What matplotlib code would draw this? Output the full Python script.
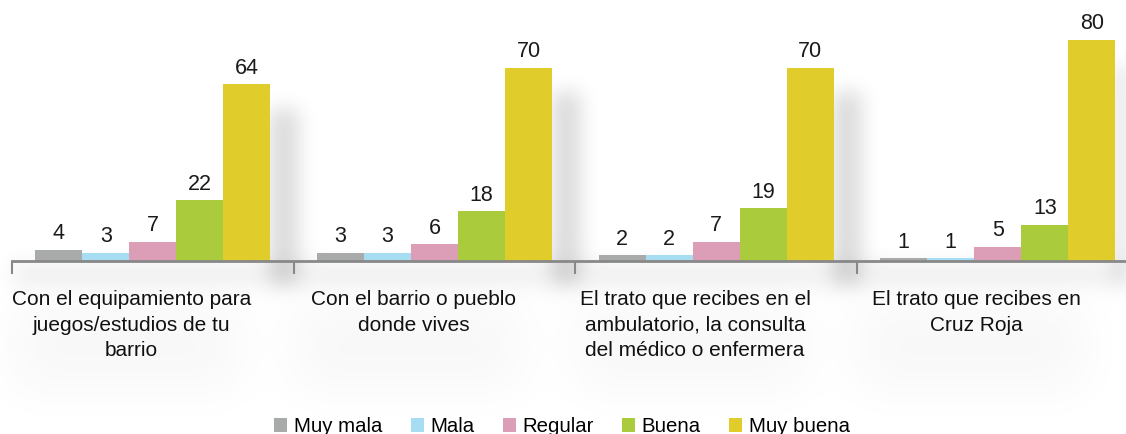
import numpy as np
import matplotlib.pyplot as plt

plt.rcParams['font.family'] = ['Liberation Sans', 'DejaVu Sans']

categories = [
    "Con el equipamiento para\njuegos/estudios de tu\nbarrio",
    "Con el barrio o pueblo\ndonde vives",
    "El trato que recibes en el\nambulatorio, la consulta\ndel médico o enfermera",
    "El trato que recibes en\nCruz Roja",
]
series = ["Muy mala", "Mala", "Regular", "Buena", "Muy buena"]
muy_mala = [4, 3, 2, 1]
mala = [3, 3, 2, 1]
regular = [7, 6, 7, 5]
buena = [22, 18, 19, 13]
muy_buena = [64, 70, 70, 80]
colors = ["#a9abaa", "#a7ddf2", "#dc9eb7", "#aacb3c", "#e0cc2a"]

values = [muy_mala, mala, regular, buena, muy_buena]

W, H = 1126, 434
fig = plt.figure(figsize=(W / 100, H / 100), dpi=100)
ax = fig.add_axes([12 / W, 0.399, 1 - 12 / W, 0.601])
ax.set_facecolor('none')

x = np.arange(len(categories))
width = 0.167
for k, (name, vals, col) in enumerate(zip(series, values, colors)):
    pos = x + (k - 2) * width
    bars = ax.bar(pos, vals, width=width, color=col, label=name, zorder=2)
    for b, v in zip(bars, vals):
        ax.annotate(str(v), (b.get_x() + b.get_width() / 2, v),
                    xytext=(0, 4), textcoords='offset points',
                    ha='center', va='bottom', fontsize=15.5, color='#1a1a1a')

# group separators as ticks; limits set afterwards so the ticks don't widen them
ax.set_xticks(np.arange(-0.5, 4, 1.0))
ax.set_xticklabels([])
ax.set_xlim(-0.5, 3.455)
ax.set_ylim(0, 94.5)
ax.set_yticks([])
ax.tick_params(axis='x', length=9, width=1.5, color='#888888', direction='out')
for s in ['left', 'top', 'right']:
    ax.spines[s].set_visible(False)
ax.spines['bottom'].set_color('#888888')
ax.spines['bottom'].set_linewidth(2)

for i, lab in enumerate(categories):
    ax.text(i - 0.075, -10.5, lab, ha='center', va='top', fontsize=15,
            linespacing=1.45, color='#111111')

fig.legend(loc='center', bbox_to_anchor=(0.499, 0.017), ncol=5,
           frameon=False, fontsize=14.7, handlelength=0.65, handleheight=0.65,
           handletextpad=0.3, columnspacing=1.4)


# soft grey shading behind the bars and the labels
def blur(img, sigma):
    r = int(3 * sigma)
    k = np.exp(-0.5 * (np.arange(-r, r + 1) / sigma) ** 2)
    k /= k.sum()
    img = np.apply_along_axis(lambda m: np.convolve(m, k, mode='same'), 1, img)
    img = np.apply_along_axis(lambda m: np.convolve(m, k, mode='same'), 0, img)
    return img


bar_shade = np.zeros((H, W))
for i, v in enumerate(muy_buena):
    x0, y0 = ax.transData.transform((i + 2.5 * width, v))
    c0 = int(x0)
    r0 = int(H - y0) + 25
    bar_shade[r0:H - 150, c0:c0 + 28] += 0.15
bar_shade[262:285, 12:] += 0.06

text_shade = np.zeros((H, W))
for i in range(len(categories)):
    cx, _ = ax.transData.transform((i - 0.075, 0))
    c = int(cx)
    text_shade[300:390, max(c - 120, 0):c + 110] += 0.03

haze = blur(bar_shade, 10) + blur(text_shade, 24)

bg = fig.add_axes([0, 0, 1, 1], zorder=-1)
bg.imshow(1 - haze, cmap='gray', vmin=0, vmax=1, aspect='auto',
          extent=(0, 1, 0, 1), interpolation='bilinear')
bg.axis('off')

fig.savefig('out.png', dpi=100)
